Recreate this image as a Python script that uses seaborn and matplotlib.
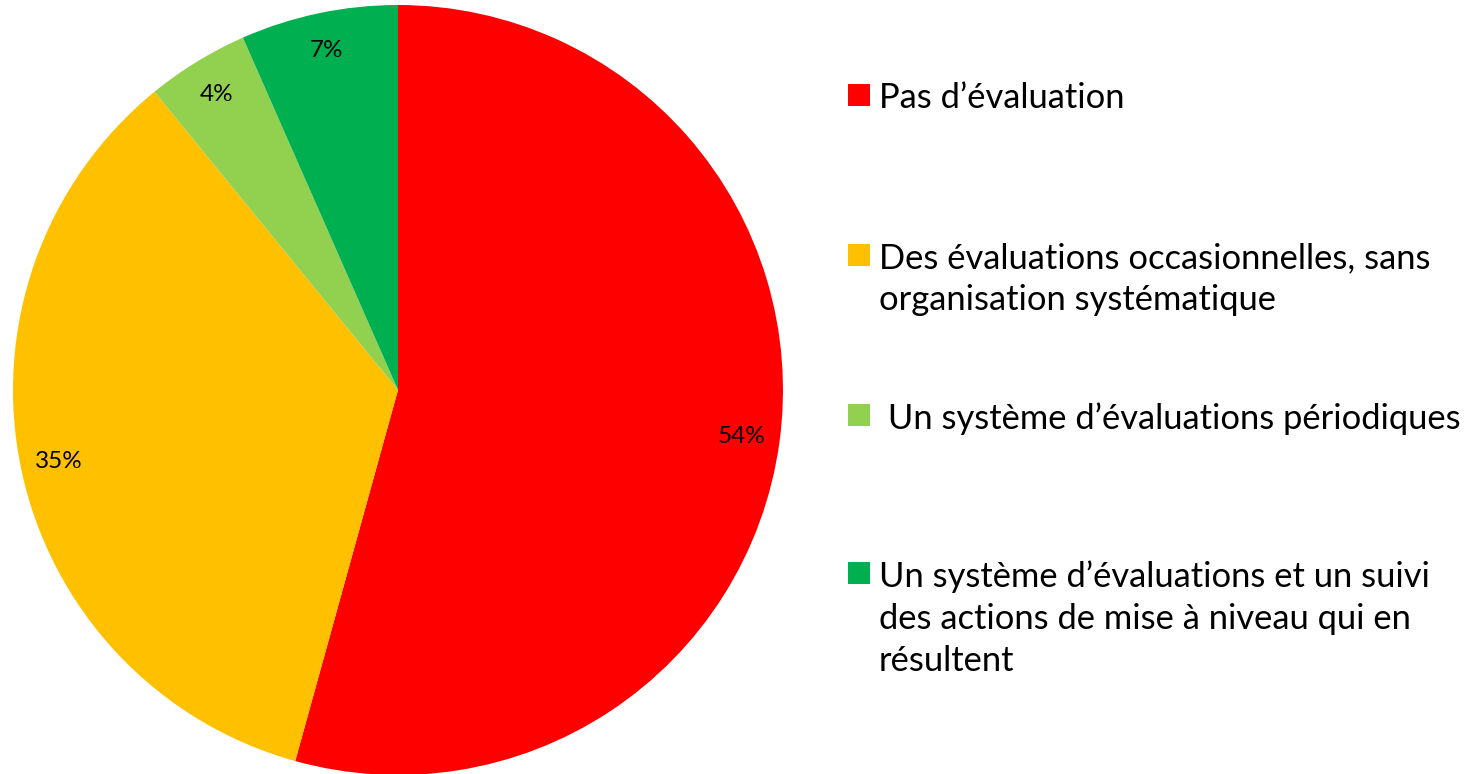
import matplotlib.pyplot as plt
import seaborn as sns
from matplotlib.patches import Rectangle

categories = [
    "Pas d\u2019évaluation",
    "Des évaluations occasionnelles, sans\norganisation systématique",
    " Un système d\u2019évaluations périodiques",
    "Un système d\u2019évaluations et un suivi\ndes actions de mise à niveau qui en\nrésultent",
]
shares = [54.3, 34.8, 4.3, 6.6]
colors = ["#FF0000", "#FFC000", "#92D050", "#00B050"]

sns.set_theme(style="white")
plt.rcParams["font.family"] = ["Lato", "DejaVu Sans"]

W, H = 1477, 774
fig = plt.figure(figsize=(W / 100, H / 100), dpi=100)

# pie centred at (398, 390) px with radius 385 px
cx, cy, r = 398, 390, 385
ax = fig.add_axes([(cx - r) / W, (H - cy - r) / H, 2 * r / W, 2 * r / H])
ax.pie(shares, colors=colors, startangle=90, counterclock=False,
       autopct="%.0f%%", pctdistance=0.9, radius=1,
       textprops={"fontsize": 17.5, "color": "black"},
       wedgeprops={"linewidth": 0})
ax.set_xlim(-1, 1)
ax.set_ylim(-1, 1)
ax.set_aspect("equal")
ax.axis("off")

# legend drawn by hand so the square sits on the first line
first_baselines = [105, 265, 425, 583]
for label, col, base in zip(categories, colors, first_baselines):
    fig.add_artist(Rectangle((848 / W, 1 - (base + 1) / H), 22 / W, 22 / H,
                             transform=fig.transFigure, color=col, lw=0))
    fig.text(879 / W, 1 - (base - 23) / H, label, fontsize=24.8,
             va="top", ha="left", color="black", linespacing=1.39)

fig.savefig("out.png", dpi=100)
